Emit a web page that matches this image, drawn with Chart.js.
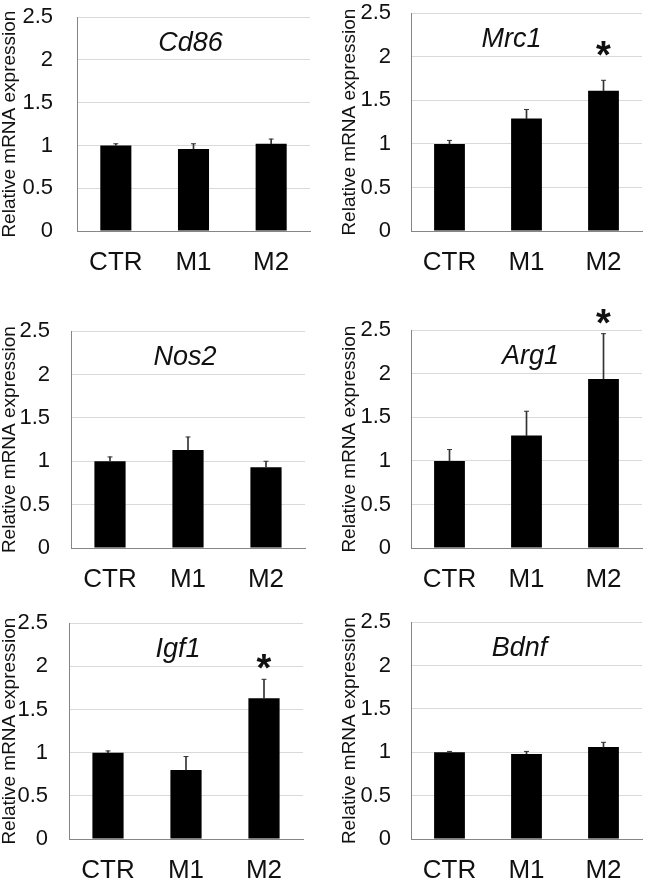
<!DOCTYPE html>
<html>
<head>
<meta charset="utf-8">
<script src="https://cdn.jsdelivr.net/npm/chart.js@4/dist/chart.umd.min.js"></script>
<style>
  html, body { margin: 0; padding: 0; background: #fff; overflow: hidden; width: 647px; height: 880px; }
  canvas { position: absolute; }
</style>
</head>
<body>
<script>
// ---- data ----
const categories = ['CTR', 'M1', 'M2'];
const yTicks = [0, 0.5, 1, 1.5, 2, 2.5];
const yTickLabels = ['0', '0.5', '1', '1.5', '2', '2.5'];

const cd86Mean = [1.00, 0.96, 1.02];
const cd86Err  = [0.02, 0.06, 0.055];
const cd86Star = [null, null, null];

const mrc1Mean = [1.00, 1.29, 1.61];
const mrc1Err  = [0.04, 0.105, 0.12];
const mrc1Star = [null, null, 2.10];

const nos2Mean = [1.00, 1.13, 0.93];
const nos2Err  = [0.05, 0.15, 0.07];
const nos2Star = [null, null, null];

const arg1Mean = [1.00, 1.29, 1.94];
const arg1Err  = [0.13, 0.28, 0.52];
const arg1Star = [null, null, 2.66];

const igf1Mean = [1.00, 0.80, 1.63];
const igf1Err  = [0.02, 0.155, 0.22];
const igf1Star = [null, null, 2.06];

const bdnfMean = [1.00, 0.98, 1.06];
const bdnfErr  = [0.01, 0.03, 0.055];
const bdnfStar = [null, null, null];

const yTitle = 'Relative mRNA expression';

// ---- layout (positions only) ----
const panels = [
  { gene: 'Cd86', mean: cd86Mean, err: cd86Err, star: cd86Star, left: 0,   top: -20, w: 330, h: 301, yW: 77, padR: 20, tickPad: 24, titleDx: -3 },
  { gene: 'Mrc1', mean: mrc1Mean, err: mrc1Err, star: mrc1Star, left: 340, top: -20, w: 307, h: 301, yW: 71, padR: 1,  tickPad: 20, titleDx: -15 },
  { gene: 'Nos2', mean: nos2Mean, err: nos2Err, star: nos2Star, left: 0,   top: 297, w: 320, h: 301, yW: 71, padR: 15, tickPad: 21, titleDx: -3 },
  { gene: 'Arg1', mean: arg1Mean, err: arg1Err, star: arg1Star, left: 340, top: 297, w: 307, h: 301, yW: 71, padR: 1,  tickPad: 20, titleDx: 4 },
  { gene: 'Igf1', mean: igf1Mean, err: igf1Err, star: igf1Star, left: 0,   top: 589, w: 318, h: 300, yW: 69, padR: 15, tickPad: 21, titleDx: -8 },
  { gene: 'Bdnf', mean: bdnfMean, err: bdnfErr, star: bdnfStar, left: 340, top: 589, w: 307, h: 300, yW: 71, padR: 1,  tickPad: 20, titleDx: -7 }
];

const FONT = '"Liberation Sans", Arial, Helvetica, sans-serif';
Chart.defaults.font.family = FONT;
Chart.defaults.color = '#111';

const annotPlugin = {
  id: 'annot',
  afterDatasetsDraw(chart, args, opts) {
    const { ctx, chartArea, scales } = chart;
    ctx.save();
    // gene title
    ctx.fillStyle = '#111';
    ctx.font = 'italic 27px ' + FONT;
    ctx.textAlign = 'center';
    ctx.textBaseline = 'alphabetic';
    const cx = (chartArea.left + chartArea.right) / 2 + opts.titleDx;
    const tm = ctx.measureText('H');
    ctx.fillText(opts.gene, cx, chartArea.top + 24 + tm.actualBoundingBoxAscent / 2);
    // significance stars
    ctx.font = 'bold 38px ' + FONT;
    const sm = ctx.measureText('*');
    const half = (sm.actualBoundingBoxAscent - sm.actualBoundingBoxDescent) / 2;
    opts.star.forEach((v, i) => {
      if (v === null) return;
      const x = scales.x.getPixelForValue(i);
      const y = scales.y.getPixelForValue(v);
      ctx.fillText('*', x, y + half);
    });
    ctx.restore();
  }
};

panels.forEach((p) => {
  const c = document.createElement('canvas');
  c.width = p.w; c.height = p.h;
  c.style.left = p.left + 'px';
  c.style.top = p.top + 'px';
  c.style.width = p.w + 'px';
  c.style.height = p.h + 'px';
  document.body.appendChild(c);

  const tops = p.mean.map((m, i) => m + p.err[i]);

  new Chart(c, {
    data: {
      labels: categories,
      datasets: [
        {
          type: 'line',
          data: tops,
          showLine: false,
          pointStyle: 'line',
          pointRadius: 2.5,
          pointBorderWidth: 1,
          pointBorderColor: '#333',
          pointBackgroundColor: '#333',
          order: 0
        },
        {
          type: 'bar',
          data: p.mean.map((m, i) => [m, tops[i]]),
          backgroundColor: '#333',
          barThickness: 1,
          grouped: false,
          order: 1
        },
        {
          type: 'bar',
          data: p.mean,
          backgroundColor: '#000',
          borderWidth: 0,
          barPercentage: 0.4,
          categoryPercentage: 1,
          grouped: false,
          order: 2
        }
      ]
    },
    options: {
      responsive: false,
      animation: false,
      devicePixelRatio: 1,
      layout: { padding: { top: 30, right: p.padR, left: 0, bottom: 0 } },
      plugins: {
        legend: { display: false },
        tooltip: { enabled: false },
        annot: { gene: p.gene, star: p.star, titleDx: p.titleDx }
      },
      scales: {
        x: {
          offset: true,
          grid: { display: false, drawTicks: false },
          border: { color: '#868686', width: 1 },
          ticks: { font: { size: 26 }, color: '#111', padding: 16, maxRotation: 0 },
          afterFit(s) { s.height = 50; }
        },
        y: {
          min: 0, max: 2.5,
          afterBuildTicks(s) { s.ticks = yTicks.map(v => ({ value: v })); },
          grid: { color: '#d9d9d9', lineWidth: 1, drawTicks: false },
          border: { color: '#868686', width: 1 },
          ticks: {
            font: { size: 22 }, color: '#111', padding: p.tickPad,
            callback: (v) => yTickLabels[yTicks.indexOf(v)]
          },
          title: {
            display: true,
            text: yTitle,
            font: { size: 19, lineHeight: 1 },
            color: '#111',
            padding: 0
          },
          afterFit(s) { s.width = p.yW; }
        }
      }
    },
    plugins: [annotPlugin]
  });
});
</script>
</body>
</html>
